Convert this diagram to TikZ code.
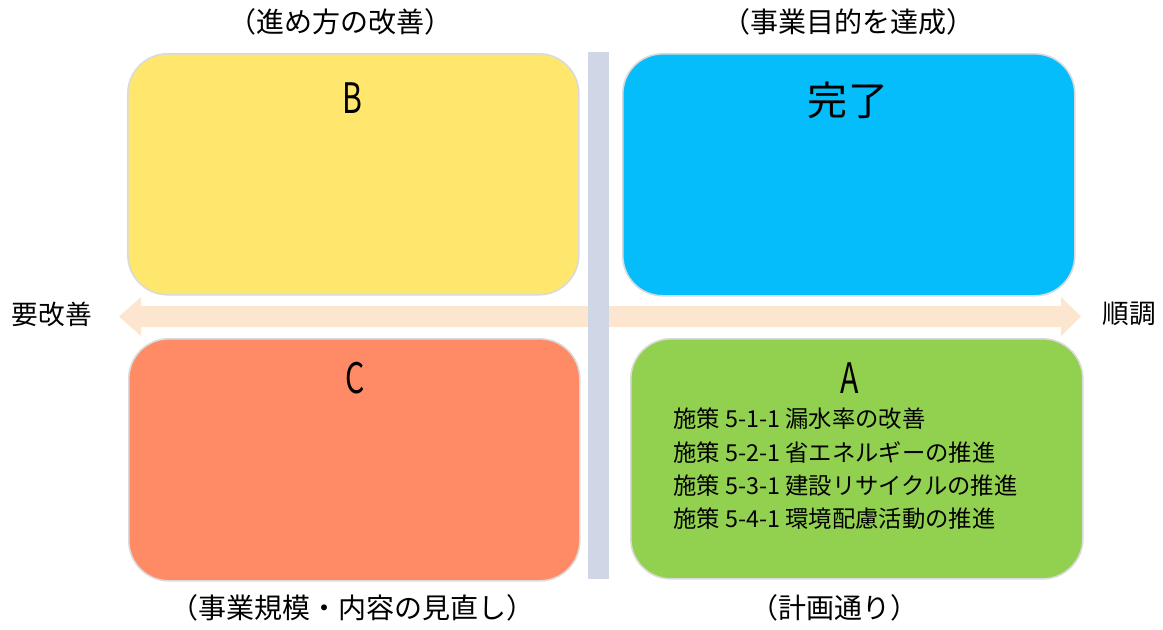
\documentclass[tikz,border=0pt]{standalone}
\usepackage{fontspec}
\setmainfont{Noto Sans CJK JP}
\newfontfamily\jp{Noto Sans CJK JP}
\definecolor{cYellow}{HTML}{FFE76E}
\definecolor{cBlue}{HTML}{06BDFC}
\definecolor{cOrange}{HTML}{FF8B66}
\definecolor{cGreen}{HTML}{92D050}
\definecolor{cBar}{HTML}{CFD7E7}
\definecolor{cArrow}{HTML}{FCE6D0}
\definecolor{cEdge}{HTML}{DADADA}
\tikzset{
  box/.style={draw=cEdge, line width=1.2pt, rounded corners=30pt, inner sep=0pt,
    anchor=north west, minimum width=451*0.75pt, minimum height=241*0.75pt},
  lbl/.style={inner sep=0pt, font=\jp\fontsize{21}{24}\selectfont},
  side/.style={inner sep=0pt, font=\jp\fontsize{20}{24}\selectfont},
  letter/.style={inner sep=0pt, font=\jp\fontsize{31.5}{36}\selectfont},
  items/.style={inner sep=0pt, align=left, anchor=north west,
    font=\jp\fontsize{17.5}{25}\selectfont}
}
\begin{document}
\begin{tikzpicture}[x=0.75pt,y=-0.75pt]
\useasboundingbox (0,0) rectangle (1163,629);
% horizontal double arrow
\coordinate (lt) at (119,316.5);
\coordinate (rt) at (1081,316.5);
\fill[cArrow] (lt) -- (141,297) -- (141,306) -- (1061,306) -- (1061,297) -- (rt)
  -- (1061,336) -- (1061,327) -- (141,327) -- (141,336) -- cycle;
% vertical bar
\node[fill=cBar, inner sep=0pt, anchor=north west, minimum width=21*0.75pt,
  minimum height=527*0.75pt] (bar) at (588,52) {};
% boxes
\node[box, fill=cYellow] (B) at (127,53) {};
\node[box, fill=cBlue, minimum width=452*0.75pt, minimum height=242*0.75pt] (K) at (622,53) {};
\node[box, fill=cOrange, minimum height=242*0.75pt] (C) at (128,338) {};
\node[box, fill=cGreen, minimum width=452*0.75pt, minimum height=240*0.75pt] (A) at (630,338) {};
% box titles
\node[letter] (tB) at (352,98) {\scalebox{0.72}[1]{B}};
\node[letter] (tC) at (355,378) {\scalebox{0.72}[1]{C}};
\node[letter] (tA) at (850,378) {\scalebox{0.72}[1]{A}};
\node[inner sep=0pt, font=\jp\fontsize{30}{34}\selectfont] (tK) at (848,100) {完\hspace{1pt}了};
% items in A
\node[items] (list) at (673,408) {施策 5-1-1 漏水率の改善\\施策 5-2-1 省エネルギーの推進\\施策 5-3-1 建設リサイクルの推進\\施策 5-4-1 環境配慮活動の推進};
% outer labels
\node[lbl] (l1) at (340,22) {（進め方の改善）};
\node[lbl] (l2) at (848,22) {（事業目的を達成）};
\node[lbl] (l3) at (352,608) {（事業規模・内容の見直し）};
\node[lbl] (l4) at (834,608) {（計画通り）};
\node[side] (sl) at (52,314) {要改善};
\node[side] (sr) at (1129,314) {順調};
\end{tikzpicture}
\end{document}
